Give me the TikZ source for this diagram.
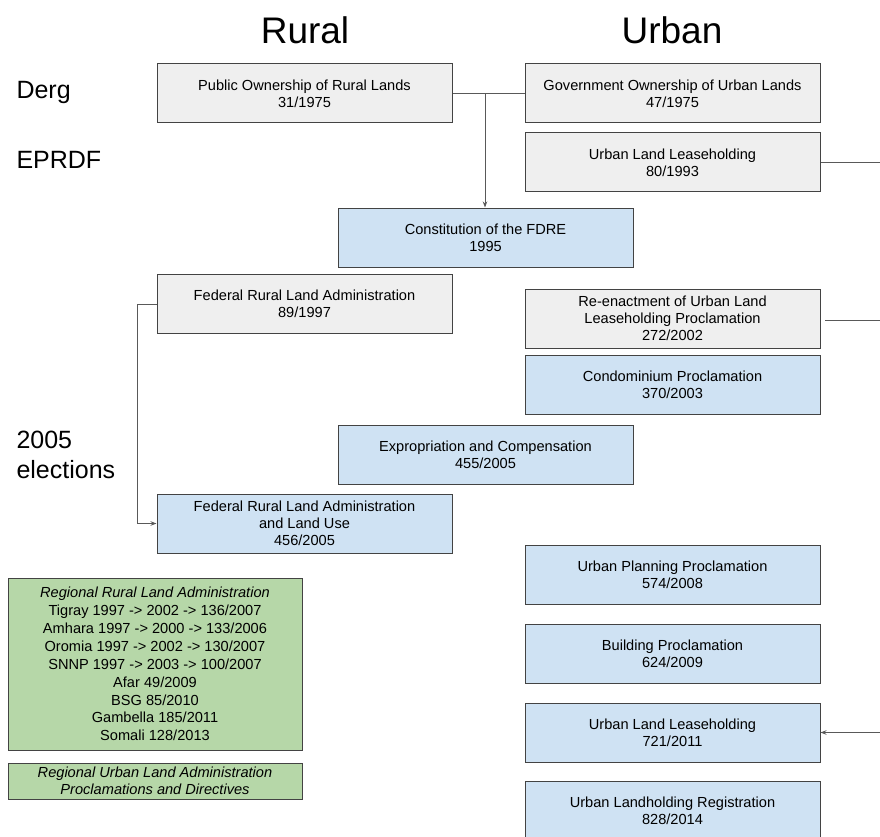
\documentclass[tikz,border=0pt]{standalone}
\usepackage{fontspec}
\setmainfont{Liberation Sans}
\usetikzlibrary{arrows.meta}
\definecolor{boxgray}{HTML}{EFEFEF}
\definecolor{boxblue}{HTML}{CFE2F3}
\definecolor{boxgreen}{HTML}{B6D7A8}
\definecolor{edgec}{HTML}{434343}
\definecolor{linec}{HTML}{595959}
\begin{document}
\begin{tikzpicture}[x=1pt,y=-1pt,
  box/.style={draw=edgec, line width=1pt, minimum width=295pt, minimum height=59pt,
    align=center, font=\fontsize{14.6}{17}\selectfont, inner sep=0pt},
  gbox/.style={box, fill=boxgray},
  bbox/.style={box, fill=boxblue},
  grbox/.style={box, fill=boxgreen, minimum width=294pt},
  title/.style={font=\fontsize{37}{40}\selectfont},
  era/.style={font=\fontsize{25}{30}\selectfont, anchor=west, align=left},
  conn/.style={draw=linec, line width=1pt},
  arr/.style={conn, -{Stealth[length=6pt,width=4.5pt]}}]
\useasboundingbox (0,0) rectangle (880,837);
\fill[white] (0,0) rectangle (880,837);

\node[title] (rural) at (305,30) {Rural};
\node[title] (urban) at (672,30) {Urban};
\node[era] (derg) at (13,92) {Derg};
\node[era] (eprdf) at (13,160) {EPRDF};
\node[era] (elect) at (13,455) {2005\\elections};

\node[gbox] (pub) at (304.5,93.5) {Public Ownership of Rural Lands\\31/1975};
\node[gbox] (gov) at (672.5,93.5) {Government Ownership of Urban Lands\\47/1975};
\node[gbox] (ulh) at (672.5,162.5) {Urban Land Leaseholding\\80/1993};
\node[bbox] (con) at (485.5,237.5) {Constitution of the FDRE\\1995};
\node[gbox] (frl) at (304.5,304) {Federal Rural Land Administration\\89/1997};
\node[gbox] (reen) at (672.5,318.5) {Re-enactment of Urban Land\\Leaseholding Proclamation\\272/2002};
\node[bbox] (condo) at (672.5,384.5) {Condominium Proclamation\\370/2003};
\node[bbox] (expr) at (485.5,454.5) {Expropriation and Compensation\\455/2005};
\node[bbox] (frl2) at (304.5,523.5) {Federal Rural Land Administration\\and Land Use\\456/2005};
\node[bbox] (upp) at (672.5,574.5) {Urban Planning Proclamation\\574/2008};
\node[bbox] (bld) at (672.5,653.5) {Building Proclamation\\624/2009};
\node[bbox] (ulh2) at (672.5,732.5) {Urban Land Leaseholding\\721/2011};
\node[bbox] (ulr) at (672.5,810.5) {Urban Landholding Registration\\828/2014};

\node[grbox, minimum height=172pt, font=\fontsize{14.6}{17.9}\selectfont] (rra) at (155,664)
  {\textit{Regional Rural Land Administration}\\
   Tigray 1997 -> 2002 -> 136/2007\\
   Amhara 1997 -> 2000 -> 133/2006\\
   Oromia 1997 -> 2002 -> 130/2007\\
   SNNP 1997 -> 2003 -> 100/2007\\
   Afar 49/2009\\
   BSG 85/2010\\
   Gambella 185/2011\\
   Somali 128/2013};
\node[grbox, minimum height=36pt] (rua) at (155,781)
  {\textit{Regional Urban Land Administration}\\
   \textit{Proclamations and Directives}};

\coordinate (j) at (485,93.5);
\draw[conn] (pub.east) -- (gov.west);
\draw[arr] (j) -- (j |- con.north);

\coordinate (r1) at (880,162.5);
\draw[conn] (ulh.east) -- (r1);
\coordinate (r2a) at (825,320);
\coordinate (r2) at (880,320);
\draw[conn] (r2a) -- (r2);
\coordinate (r3) at (880,732.5);
\draw[arr] (r3) -- (ulh2.east);

\coordinate (l1) at (137,304);
\draw[arr] (frl.west) -- (l1) -- (l1 |- frl2.west) -- (frl2.west);
\end{tikzpicture}
\end{document}
